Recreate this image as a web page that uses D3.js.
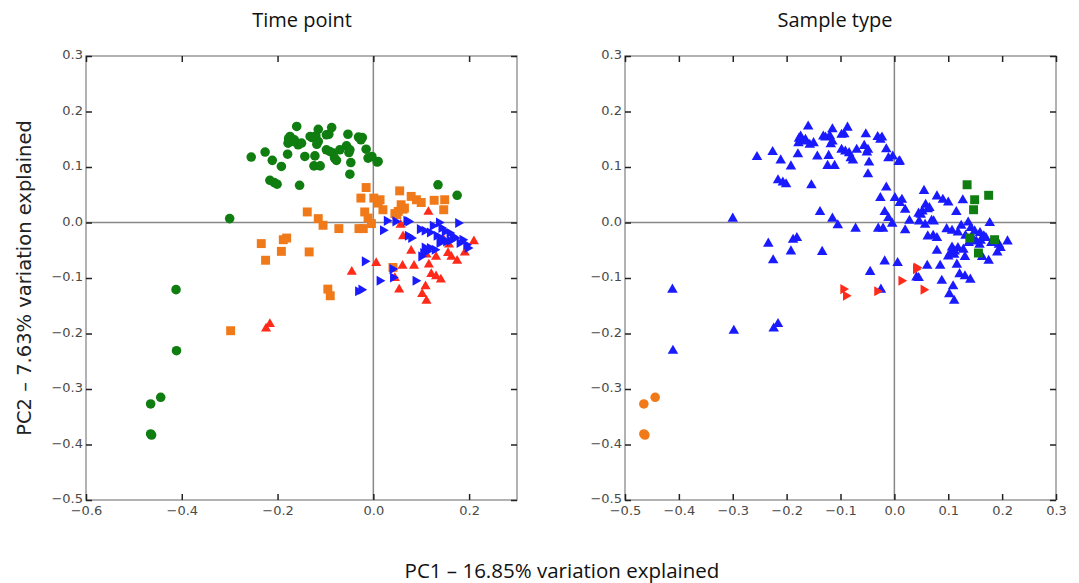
<!DOCTYPE html>
<html>
<head>
<meta charset="utf-8">
<script src="https://cdn.jsdelivr.net/npm/d3@7"></script>
<style>
  body { margin: 0; background: #fff; }
  svg { display: block; }
  .tick line { stroke: #222; stroke-width: 1.5; }
</style>
</head>
<body>
<div id="chart"></div>
<script>
// PCA scores, grouped by time point (left panel)
const timeGreen = [[-0.160,0.173],[-0.115,0.168],[-0.087,0.171],[-0.053,0.159],[-0.031,0.154],[-0.023,0.153],[-0.026,0.149],[-0.177,0.151],[-0.165,0.149],[-0.128,0.153],[-0.120,0.156],[-0.093,0.159],[-0.178,0.143],[-0.157,0.140],[-0.150,0.143],[-0.118,0.141],[-0.056,0.138],[-0.226,0.127],[-0.179,0.123],[-0.098,0.131],[-0.084,0.125],[-0.070,0.131],[-0.051,0.126],[-0.049,0.131],[-0.015,0.132],[-0.255,0.118],[-0.143,0.119],[-0.122,0.120],[-0.081,0.116],[-0.077,0.112],[-0.211,0.112],[-0.011,0.116],[-0.003,0.119],[0.008,0.109],[-0.047,0.108],[-0.192,0.101],[-0.124,0.102],[-0.111,0.102],[-0.091,0.128],[-0.049,0.087],[-0.216,0.076],[-0.207,0.072],[-0.201,0.069],[-0.154,0.067],[0.135,0.068],[0.175,0.049],[-0.300,0.007],[-0.412,-0.121],[-0.411,-0.231],[-0.444,-0.315],[-0.465,-0.327],[-0.465,-0.381],[-0.463,-0.383],[-0.174,0.155],[-0.167,0.146],[-0.132,0.155],[-0.115,0.146],[-0.098,0.158],[0.010,0.110]];
const timeOrange = [[-0.015,0.063],[0.055,0.057],[-0.026,0.044],[0.001,0.044],[0.014,0.041],[0.079,0.047],[0.090,0.041],[0.100,0.036],[0.127,0.040],[0.149,0.041],[0.147,0.023],[0.010,0.035],[0.020,0.023],[0.058,0.032],[0.065,0.026],[0.045,0.016],[0.052,0.020],[-0.138,0.019],[-0.115,0.007],[-0.105,-0.005],[-0.018,0.019],[-0.011,0.008],[-0.004,-0.002],[-0.030,-0.011],[-0.021,-0.011],[-0.072,-0.011],[-0.234,-0.038],[-0.225,-0.068],[-0.192,-0.052],[-0.188,-0.031],[-0.181,-0.028],[-0.134,-0.053],[-0.095,-0.120],[-0.090,-0.132],[0.041,-0.081],[-0.298,-0.195],[0.049,0.014],[0.062,0.024]];
const timeRed = [[0.115,0.019],[0.057,-0.004],[0.062,-0.025],[0.079,-0.051],[0.111,-0.058],[0.131,-0.062],[0.156,-0.055],[0.158,-0.040],[0.175,-0.069],[0.191,-0.054],[0.210,-0.034],[0.006,-0.073],[-0.045,-0.089],[0.061,-0.078],[0.085,-0.078],[0.116,-0.076],[0.045,-0.100],[0.054,-0.121],[0.121,-0.093],[0.131,-0.097],[0.141,-0.103],[0.109,-0.115],[0.102,-0.129],[0.111,-0.141],[-0.216,-0.183],[-0.224,-0.191],[0.163,-0.062],[0.146,-0.030]];
const timeBlue = [[0.028,0.003],[0.046,0.002],[0.069,0.003],[0.073,0.002],[0.020,-0.014],[0.072,-0.024],[0.079,-0.028],[0.097,-0.012],[0.107,-0.015],[0.118,-0.018],[0.124,-0.006],[0.137,0.000],[0.142,-0.010],[0.149,-0.016],[0.159,-0.019],[0.166,-0.025],[0.177,-0.001],[0.107,-0.045],[0.100,-0.061],[0.118,-0.046],[0.128,-0.049],[0.138,-0.037],[0.145,-0.031],[0.152,-0.034],[0.170,-0.028],[0.180,-0.037],[0.194,-0.040],[0.197,-0.046],[0.104,-0.055],[0.112,-0.052],[-0.018,-0.070],[0.040,-0.084],[0.013,-0.105],[0.041,-0.099],[0.088,-0.105],[-0.025,-0.121],[-0.032,-0.124],[0.132,-0.024],[0.160,-0.033],[0.186,-0.031],[0.140,-0.028]];

// same samples by sample type (right panel); everything not listed is blue
const typeRed = [[-0.095,-0.120],[-0.090,-0.132],[-0.032,-0.124],[0.013,-0.105],[0.041,-0.081],[0.040,-0.084],[0.054,-0.121]];
const typeGreen = [[0.135,0.068],[0.175,0.049],[0.149,0.041],[0.147,0.023],[0.186,-0.031],[0.156,-0.055],[0.140,-0.028]];
const typeOrange = [[-0.444,-0.315],[-0.465,-0.327],[-0.465,-0.381],[-0.463,-0.383]];

const xTicksLeft = [-0.6, -0.4, -0.2, 0.0, 0.2];
const xTicksRight = [-0.5, -0.4, -0.3, -0.2, -0.1, 0.0, 0.1, 0.2, 0.3];
const yTicks = [0.3, 0.2, 0.1, 0.0, -0.1, -0.2, -0.3, -0.4, -0.5];

const w = 1079, h = 583;
const plotTop = 56, plotBottom = 500;
const colors = { green: '#0f7d0f', orange: '#f07a1a', red: '#ff2a1a', blue: '#1a1aff' };

const svg = d3.select('#chart').append('svg').attr('width', w).attr('height', h);

const key = p => p[0] + ',' + p[1];
const other = new Set([...typeRed, ...typeGreen, ...typeOrange].map(key));
const allSamples = [...timeGreen, ...timeOrange, ...timeRed, ...timeBlue];
const typeBlue = allSamples.filter(p => !other.has(key(p)));

const panels = [
  { left: 86, right: 517, domain: [-0.6, 0.3], ticks: xTicksLeft, title: 'Time point', titleX: 302,
    groups: [
      { data: timeGreen, type: d3.symbolCircle, size: 72, rot: 0, color: colors.green },
      { data: timeOrange, type: d3.symbolSquare, size: 80, rot: 0, color: colors.orange },
      { data: timeRed, type: d3.symbolTriangle, size: 44, rot: 0, color: colors.red },
      { data: timeBlue, type: d3.symbolTriangle, size: 44, rot: 90, color: colors.blue }
    ] },
  { left: 625, right: 1056, domain: [-0.5, 0.3], ticks: xTicksRight, title: 'Sample type', titleX: 835,
    groups: [
      { data: typeBlue, type: d3.symbolTriangle, size: 48, rot: 0, color: colors.blue },
      { data: typeGreen, type: d3.symbolSquare, size: 80, rot: 0, color: colors.green },
      { data: typeRed, type: d3.symbolTriangle, size: 44, rot: 90, color: colors.red },
      { data: typeOrange, type: d3.symbolCircle, size: 72, rot: 0, color: colors.orange }
    ] }
];

const yScale = d3.scaleLinear().domain([-0.5, 0.3]).range([plotBottom, plotTop]);
const fmt = d3.format('.1f');

panels.forEach(p => {
  const xScale = d3.scaleLinear().domain(p.domain).range([p.left, p.right]);
  const g = svg.append('g');

  g.append('rect')
    .attr('x', p.left).attr('y', plotTop)
    .attr('width', p.right - p.left).attr('height', plotBottom - plotTop)
    .attr('fill', 'none').attr('stroke', '#999').attr('stroke-width', 1.5);

  // zero lines
  g.append('line')
    .attr('x1', xScale(0)).attr('x2', xScale(0)).attr('y1', plotTop).attr('y2', plotBottom)
    .attr('stroke', '#888').attr('stroke-width', 1.5);
  g.append('line')
    .attr('x1', p.left).attr('x2', p.right).attr('y1', yScale(0)).attr('y2', yScale(0))
    .attr('stroke', '#888').attr('stroke-width', 1.5);

  const ax = (axis, tr) => g.append('g').attr('transform', tr).call(axis)
    .call(s => s.select('.domain').remove())
    .call(s => s.selectAll('text')
      .style('font-family', '"DejaVu Sans", sans-serif')
      .style('font-size', '13px')
      .attr('fill', '#4a4a4a'));
  ax(d3.axisBottom(xScale).tickValues(p.ticks).tickSize(-6).tickPadding(6).tickFormat(fmt), `translate(0,${plotBottom})`);
  ax(d3.axisTop(xScale).tickValues(p.ticks).tickSize(-6).tickFormat(''), `translate(0,${plotTop})`);
  ax(d3.axisLeft(yScale).tickValues(yTicks).tickSize(-6).tickPadding(3).tickFormat(fmt), `translate(${p.left},0)`)
    .selectAll('text').attr('dy', '0.2em');
  ax(d3.axisRight(yScale).tickValues(yTicks).tickSize(-6).tickFormat(''), `translate(${p.right},0)`);

  p.groups.forEach(gr => {
    const sym = d3.symbol().type(gr.type).size(gr.size);
    g.append('g').selectAll('path')
      .data(gr.data)
      .enter()
      .append('path')
      .attr('d', sym)
      .attr('transform', d => `translate(${xScale(d[0])},${yScale(d[1])}) rotate(${gr.rot})`)
      .attr('fill', gr.color);
  });

  svg.append('text')
    .attr('x', p.titleX)
    .attr('y', 27)
    .attr('text-anchor', 'middle')
    .style('font-family', '"Open Sans", sans-serif')
    .style('font-size', '20px')
    .attr('fill', '#111')
    .text(p.title);
});

svg.append('text')
  .attr('transform', `translate(31, ${(plotTop + plotBottom) / 2}) rotate(-90)`)
  .attr('text-anchor', 'middle')
  .style('font-family', '"DejaVu Sans", sans-serif')
  .style('font-size', '19.5px')
  .attr('fill', '#222')
  .text('PC2 – 7.63% variation explained');

svg.append('text')
  .attr('x', 562)
  .attr('y', 578)
  .attr('text-anchor', 'middle')
  .style('font-family', '"Open Sans", sans-serif')
  .style('font-size', '20.5px')
  .attr('fill', '#111')
  .text('PC1 – 16.85% variation explained');
</script>
</body>
</html>
